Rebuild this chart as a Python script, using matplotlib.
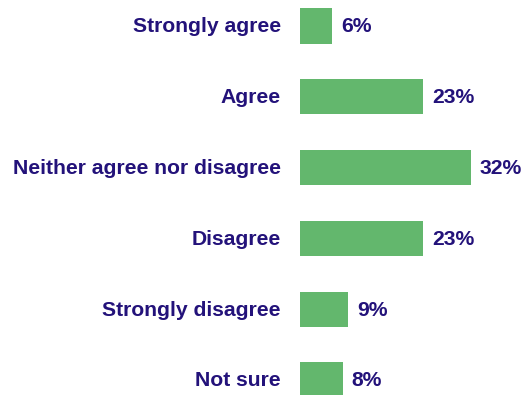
import matplotlib
matplotlib.use("Agg")
import matplotlib.pyplot as plt
from matplotlib.transforms import offset_copy

categories = ["Strongly agree", "Agree", "Neither agree nor disagree",
              "Disagree", "Strongly disagree", "Not sure"]
values = [6, 23, 32, 23, 9, 8]
value_labels = ["6%", "23%", "32%", "23%", "9%", "8%"]

bar_color = "#63b76d"
text_color = "#23127a"
plt.rcParams['font.family'] = ['Liberation Sans', 'DejaVu Sans']

W, H = 523, 395
fig = plt.figure(figsize=(W / 100, H / 100), dpi=100)
left = 300 / W
ax = fig.add_axes([left, 0, 0.98 - left, 1])
pos = list(range(len(categories)))
ax.barh(pos, values, height=0.5, color=bar_color, clip_on=False)
ax.set_xlim(0, (0.98 * W - 300) / 5.34)
ax.set_ylim(5 + 15 / 70.8, -26 / 70.8)
ax.axis("off")

fs = 15.2
tr_val = offset_copy(ax.transData, fig=fig, x=9, y=-1, units="dots")
for p, v, lab in zip(pos, values, value_labels):
    ax.text(v, p, lab, transform=tr_val, ha="left", va="center",
            fontsize=fs, fontweight="bold", color=text_color)

tr_cat = offset_copy(ax.transData, fig=fig, x=-19, y=-1, units="dots")
for p, c in zip(pos, categories):
    ax.text(0, p, c, transform=tr_cat, ha="right", va="center",
            fontsize=fs, fontweight="bold", color=text_color)

fig.savefig("out.png", dpi=100, facecolor="white")
